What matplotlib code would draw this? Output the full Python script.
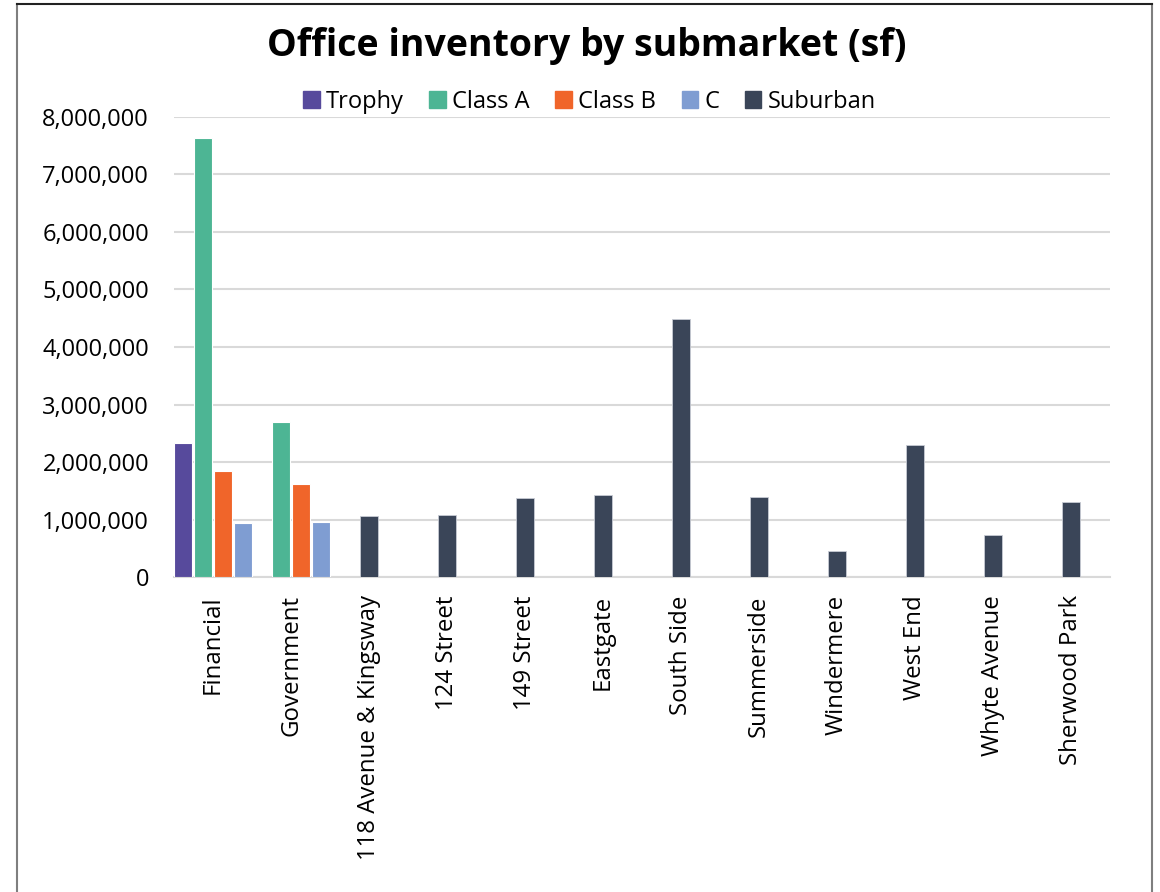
import matplotlib.pyplot as plt
from matplotlib.lines import Line2D
from matplotlib.ticker import FuncFormatter
import numpy as np

plt.rcParams["font.family"] = ["Open Sans", "DejaVu Sans"]

submarkets = ["Financial", "Government", "118 Avenue & Kingsway", "124 Street",
              "149 Street", "Eastgate", "South Side", "Summerside", "Windermere",
              "West End", "Whyte Avenue", "Sherwood Park"]

# Downtown submarkets split by building class
downtown = ["Financial", "Government"]
trophy = [2330000, np.nan]
class_a = [7630000, 2690000]
class_b = [1850000, 1610000]
class_c = [940000, 955000]

# Suburban submarkets (total inventory)
suburban_names = submarkets[2:]
suburban = [1055000, 1080000, 1370000, 1430000, 4490000, 1390000,
            450000, 2290000, 740000, 1300000]

series_names = ["Trophy", "Class A", "Class B", "C", "Suburban"]
colors = ["#574a9c", "#4db594", "#f0652a", "#7f9dd2", "#3a4558"]

fig = plt.figure(figsize=(11.6, 8.92), dpi=100)
ax = fig.add_axes([0.15, 0.353, 0.807, 0.516])

bar_w = 0.23
slot = 0.26
x_down = np.array([submarkets.index(n) for n in downtown])
for k, vals in enumerate([trophy, class_a, class_b, class_c]):
    ax.bar(x_down + (k - 1.5) * slot, vals, width=bar_w, color=colors[k],
           edgecolor="white", linewidth=0.8, label=series_names[k], zorder=3)

x_sub = np.array([submarkets.index(n) for n in suburban_names])
ax.bar(x_sub, suburban, width=bar_w, color=colors[4], edgecolor="#c8ccd4",
       linewidth=0.6, label=series_names[4], zorder=3)

ax.set_xlim(-0.5, len(submarkets) - 0.5)
ax.set_ylim(0, 8000000)
ax.set_yticks(np.arange(0, 8000001, 1000000))
ax.yaxis.set_major_formatter(FuncFormatter(lambda v, p: f"{int(v):,}"))
ax.grid(axis="y", color="#d9d9d9", linewidth=1.5, zorder=0)
ax.set_axisbelow(True)
for s in ["top", "right", "left"]:
    ax.spines[s].set_visible(False)
ax.spines["bottom"].set_color("#d9d9d9")
ax.spines["bottom"].set_linewidth(1.5)

ax.set_xticks(range(len(submarkets)))
ax.set_xticklabels(submarkets, rotation=90, fontsize=17.3, color="#000000")
ax.tick_params(axis="x", length=0, pad=13)
ax.tick_params(axis="y", length=0, pad=18, labelsize=17, labelcolor="#000000")

fig.text(0.506, 0.948, "Office inventory by submarket (sf)", ha="center",
         va="center", fontsize=27, fontweight="bold", color="#000000")

handles = [plt.Rectangle((0, 0), 1, 1, color=c) for c in colors]
fig.legend(handles, series_names, loc="center", bbox_to_anchor=(0.508, 0.886),
           ncol=5, frameon=False, fontsize=17, handlelength=0.7,
           handleheight=0.7, handletextpad=0.25, columnspacing=1.1)

# chart frame
fig.add_artist(Line2D([17 / 1160, 17 / 1160], [0, 1 - 4 / 892],
                      transform=fig.transFigure, color="#7f7f7f", linewidth=1.5))
fig.add_artist(Line2D([1152 / 1160, 1152 / 1160], [0, 1 - 4 / 892],
                      transform=fig.transFigure, color="#7f7f7f", linewidth=1.5))
fig.add_artist(Line2D([17 / 1160, 1152 / 1160], [1 - 4 / 892, 1 - 4 / 892],
                      transform=fig.transFigure, color="#222222", linewidth=1.5))

fig.savefig("out.png", dpi=100, facecolor="white")
